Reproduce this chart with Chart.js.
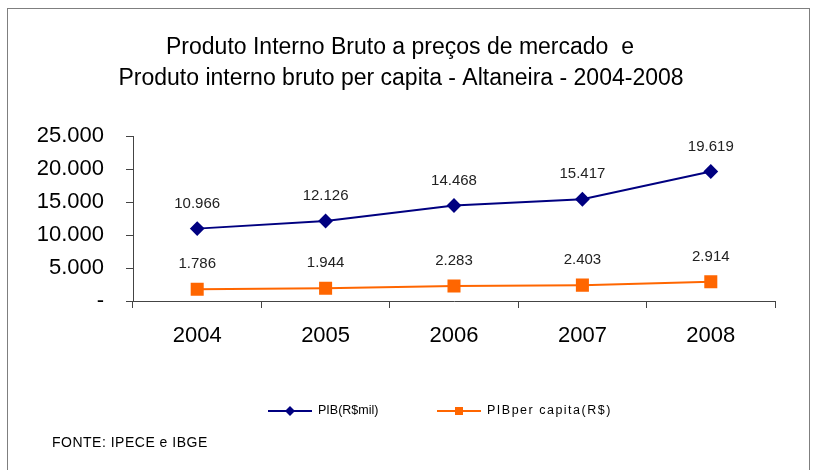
<!DOCTYPE html>
<html>
<head>
<meta charset="utf-8">
<script src="https://cdn.jsdelivr.net/npm/chart.js@4"></script>
<style>
  body { margin: 0; background: #fff; }
</style>
</head>
<body>
<canvas id="grafico" width="813" height="470"></canvas>
<script>
var anos = ["2004", "2005", "2006", "2007", "2008"];
var pib = [10966, 12126, 14468, 15417, 19619];
var pibPerCapita = [1786, 1944, 2283, 2403, 2914];
var yTicks = [0, 5000, 10000, 15000, 20000, 25000];

var tituloLinhas = [
	"Produto Interno Bruto a preços de mercado  e",
	"Produto interno bruto per capita - Altaneira - 2004-2008"
];

function formatar(v) {
	if (v === 0) return "-";
	return v.toString().replace(/\B(?=(\d{3})+(?!\d))/g, ".");
}

// moldura, titulo, rotulos, legenda e fonte
var extras = {
	id: 'extras',
	beforeDraw: function(chart) {
		var ctx = chart.ctx;
		ctx.save();
		ctx.fillStyle = '#fff';
		ctx.fillRect(0, 0, chart.width, chart.height);
		ctx.strokeStyle = '#7f7f7f';
		ctx.lineWidth = 1;
		ctx.strokeRect(7.5, 8.5, 802, 480);
		ctx.restore();
	},
	afterDatasetsDraw: function(chart) {
		var ctx = chart.ctx;
		ctx.save();
		ctx.fillStyle = '#000';
		ctx.textAlign = 'center';
		ctx.textBaseline = 'middle';
		ctx.font = '23px "Liberation Sans", Arial, sans-serif';
		ctx.fillText(tituloLinhas[0], 400, 48);
		ctx.fillText(tituloLinhas[1], 401, 79);

		// rotulos de dados
		ctx.font = '15px "Liberation Sans", Arial, sans-serif';
		ctx.fillStyle = '#222';
		chart.data.datasets.forEach(function(ds, i) {
			chart.getDatasetMeta(i).data.forEach(function(pt, j) {
				ctx.fillText(formatar(ds.data[j]), pt.x, pt.y - 25);
			});
		});

		// legenda
		ctx.lineWidth = 2;
		ctx.strokeStyle = '#000080';
		ctx.beginPath(); ctx.moveTo(268, 411); ctx.lineTo(312, 411); ctx.stroke();
		ctx.fillStyle = '#000080';
		ctx.beginPath();
		ctx.moveTo(290, 406); ctx.lineTo(295, 411); ctx.lineTo(290, 416); ctx.lineTo(285, 411);
		ctx.closePath(); ctx.fill();
		ctx.strokeStyle = '#FF6600';
		ctx.beginPath(); ctx.moveTo(437, 411); ctx.lineTo(481, 411); ctx.stroke();
		ctx.fillStyle = '#FF6600';
		ctx.fillRect(455, 407, 8, 8);

		ctx.fillStyle = '#000';
		ctx.textAlign = 'left';
		ctx.font = '12.5px "Liberation Sans", Arial, sans-serif';
		ctx.fillText("PIB(R$mil)", 318, 411);
		ctx.letterSpacing = '1.5px';
		ctx.fillText("PIBper capita(R$)", 487, 411);

		ctx.letterSpacing = '0.5px';
		ctx.font = '14px "Liberation Sans", Arial, sans-serif';
		ctx.fillText("FONTE: IPECE e IBGE", 52, 443);
		ctx.letterSpacing = '0px';
		ctx.restore();
	}
};

new Chart("grafico", {
	type: 'line',
	data: {
		labels: anos,
		datasets: [
			{
				label: 'PIB(R$mil)',
				data: pib,
				borderColor: '#000080',
				backgroundColor: '#000080',
				borderWidth: 2,
				pointStyle: 'rectRot',
				pointRadius: 6,
				pointHoverRadius: 6,
				tension: 0
			},
			{
				label: 'PIBper capita(R$)',
				data: pibPerCapita,
				borderColor: '#FF6600',
				backgroundColor: '#FF6600',
				borderWidth: 2,
				pointStyle: 'rect',
				pointRadius: 7.8,
				pointHoverRadius: 7.8,
				tension: 0
			}
		]
	},
	options: {
		responsive: false,
		animation: false,
		events: [],
		layout: { padding: { top: 136, left: 0, right: 38, bottom: 0 } },
		plugins: {
			legend: { display: false },
			title: { display: false },
			tooltip: { enabled: false }
		},
		scales: {
			x: {
				offset: true,
				grid: { offset: true, drawOnChartArea: false, drawTicks: true, tickLength: 7, color: '#444' },
				border: { color: '#444', width: 1 },
				ticks: { color: '#000', padding: 15, font: { family: '"Liberation Sans", Arial, sans-serif', size: 22 } },
				afterFit: function(s) { s.height = 169; }
			},
			y: {
				min: 0,
				max: 25000,
				afterBuildTicks: function(s) { s.ticks = yTicks.map(function(v) { return { value: v }; }); },
				grid: { drawOnChartArea: false, drawTicks: true, tickLength: 7, color: '#444' },
				border: { color: '#444', width: 1 },
				ticks: {
					color: '#000',
					padding: 22,
					font: { family: '"Liberation Sans", Arial, sans-serif', size: 22 },
					callback: function(v) { return formatar(v); }
				},
				afterFit: function(s) { s.width = 133; }
			}
		}
	},
	plugins: [extras]
});
</script>
</body>
</html>
